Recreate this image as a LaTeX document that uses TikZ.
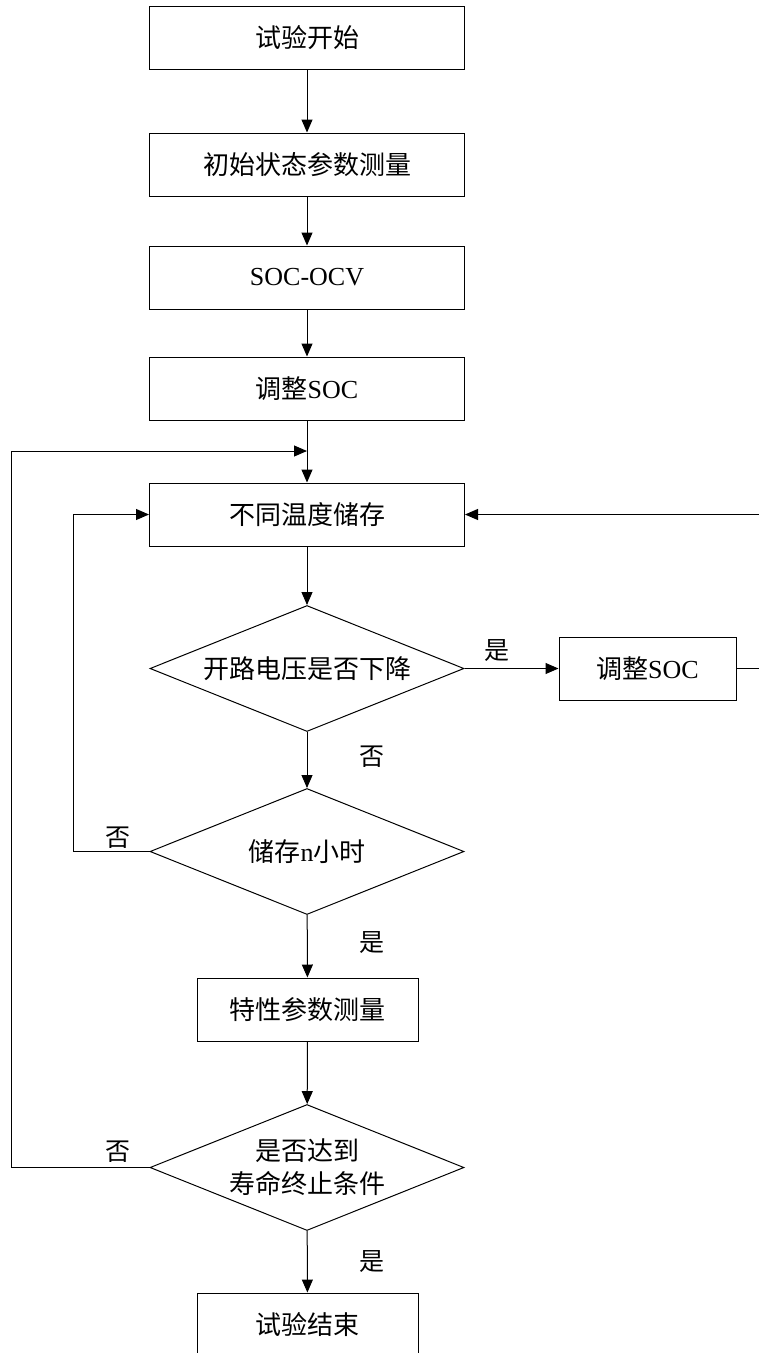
\documentclass[tikz,border=0pt]{standalone}
\usepackage{fontspec}
\setmainfont{Liberation Serif}
\newfontfamily\cjk{Noto Sans CJK SC}
\usetikzlibrary{shapes.geometric,arrows.meta}
\newcommand\zh[1]{{\cjk #1}}
\tikzset{
  stepbox/.style={draw=black, line width=1pt, rectangle, minimum width=315pt, minimum height=63pt, inner sep=0pt, font=\fontsize{26}{32}\selectfont},
  smallbox/.style={stepbox, minimum width=221pt},
  sidebox/.style={stepbox, minimum width=177pt},
  decide/.style={draw=black, line width=1pt, diamond, minimum width=314pt, minimum height=126pt, inner sep=0pt},
  dtext/.style={align=center, inner sep=0pt, font=\fontsize{26}{33}\selectfont},
  conn/.style={line width=1pt, draw=black},
  arr/.style={conn, -{Triangle[length=13pt,width=11pt]}},
  lbl/.style={font=\fontsize{25}{28}\selectfont\cjk, inner sep=0pt},
}
\begin{document}
\begin{tikzpicture}[x=1pt,y=-1pt]
\useasboundingbox (0,0) rectangle (759,1353);
\clip (0,0) rectangle (759,1353);
\fill[white] (0,0) rectangle (759,1353);

\node[stepbox] (b1) at (307,37.5) {\zh{试验开始}};
\node[stepbox] (b2) at (307,164.5) {\zh{初始状态参数测量}};
\node[stepbox] (b3) at (307,277.5) {SOC-OCV};
\node[stepbox] (b4) at (307,388.5) {\zh{调整}SOC};
\node[stepbox] (b5) at (307,514.5) {\zh{不同温度储存}};
\node[decide, label={[dtext]center:\zh{开路电压是否下降}}] (d1) at (307,668.5) {};
\node[sidebox] (rb) at (647.5,668.5) {\zh{调整}SOC};
\node[decide, label={[dtext]center:\zh{储存}n\zh{小时}}] (d2) at (307,851.5) {};
\node[smallbox] (b6) at (307.5,1009.5) {\zh{特性参数测量}};
\node[decide, label={[dtext]center:\zh{是否达到}\\\zh{寿命终止条件}}] (d3) at (307,1167.5) {};
\node[smallbox] (b7) at (307.5,1324.5) {\zh{试验结束}};

\coordinate (mid) at (307,451);
\coordinate (rtop) at (761,514.5);
\coordinate (rbot) at (761,668.5);
\coordinate (l1a) at (73,851.5);
\coordinate (l1b) at (73,514.5);
\coordinate (l2a) at (11,1167.5);
\coordinate (l2b) at (11,451);

\draw[arr] (b1) -- (b2);
\draw[arr] (b2) -- (b3);
\draw[arr] (b3) -- (b4);
\draw[arr] (b4) -- (b5);
\draw[arr] (b5) -- (d1);
\draw[arr] (d1) -- (rb);
\draw[arr] (rb.east) -- (rbot) -- (rtop) -- (b5.east);
\draw[arr] (d1) -- (d2);
\draw[arr] (d2.west) -- (l1a) -- (l1b) -- (b5.west);
\draw[arr] (d2) -- (b6);
\draw[arr] (b6) -- (d3);
\draw[arr] (d3.west) -- (l2a) -- (l2b) -- (mid);
\draw[arr] (d3) -- (b7);

\node[lbl] (y1) at (497,651) {是};
\node[lbl] (n1) at (372,757) {否};
\node[lbl] (n2) at (118,838) {否};
\node[lbl] (y2) at (372,943) {是};
\node[lbl] (n3) at (118,1152) {否};
\node[lbl] (y3) at (372,1262) {是};
\end{tikzpicture}
\end{document}
